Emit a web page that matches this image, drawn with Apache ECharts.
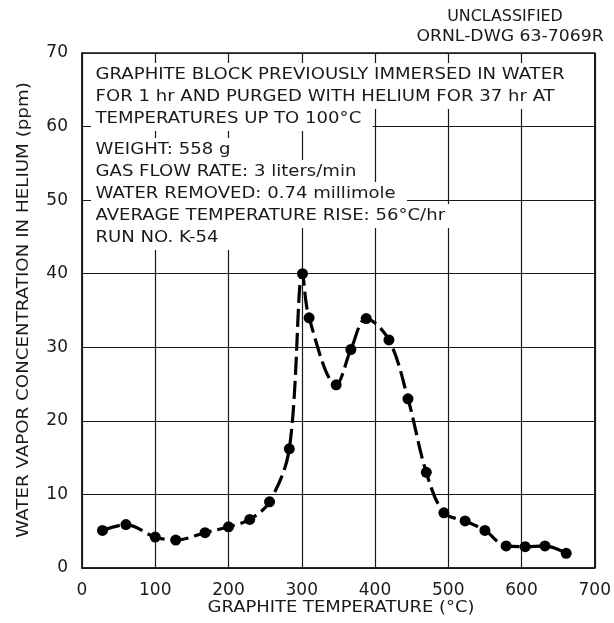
<!DOCTYPE html>
<html>
<head>
<meta charset="utf-8">
<script src="https://cdn.jsdelivr.net/npm/echarts@6/dist/echarts.min.js"></script>
<style>
  html, body { margin: 0; padding: 0; background: #fff; }
  #chart { width: 614px; height: 623px; }
</style>
</head>
<body>
<div id="chart"></div>
<script>
// graphite temperature (deg C) and water vapor (ppm)
const temps = [28, 60, 100, 128, 168, 200, 229, 256, 283, 301, 310, 347, 367, 388, 419, 445, 470, 494, 523, 550, 579, 605, 632, 661];
const ppm = [5.1, 5.9, 4.2, 3.8, 4.8, 5.6, 6.6, 9.0, 16.2, 40.0, 34.0, 24.9, 29.7, 33.9, 31.0, 23.0, 13.0, 7.5, 6.4, 5.1, 3.0, 2.9, 3.0, 2.0];

const headerLines = [
  'GRAPHITE BLOCK PREVIOUSLY IMMERSED IN WATER',
  'FOR 1 hr AND PURGED WITH HELIUM FOR 37 hr AT',
  'TEMPERATURES UP TO 100°C'
];
const detailLines = [
  'WEIGHT: 558 g',
  'GAS FLOW RATE: 3 liters/min',
  'WATER REMOVED: 0.74 millimole',
  'AVERAGE TEMPERATURE RISE: 56°C/hr',
  'RUN NO. K-54'
];
const xTitle = 'GRAPHITE TEMPERATURE (°C)';
const yTitle = 'WATER VAPOR CONCENTRATION IN HELIUM (ppm)';

const FONT = '"DejaVu Sans", sans-serif';
const INK = '#1a1a1a';
const chart = echarts.init(document.getElementById('chart'));

function noteText(text, y) {
  return {
    type: 'text',
    x: 91,
    y: y,
    z: 100,
    scaleX: 1.13,
    style: {
      text: text,
      font: '16px ' + FONT,
      fill: INK,
      verticalAlign: 'middle',
      backgroundColor: '#fff',
      padding: [4, 10, 4, 4]
    }
  };
}

function label(text, x, y, size, sx, rot) {
  return {
    type: 'text', x: x, y: y, scaleX: sx, rotation: rot || 0,
    style: { text: text, font: size + 'px ' + FONT, fill: INK, align: 'center', verticalAlign: 'middle' }
  };
}

const graphics = [];
headerLines.forEach((t, i) => graphics.push(noteText(t, 75 + i * 22)));
detailLines.forEach((t, i) => graphics.push(noteText(t, 150 + i * 22)));
graphics.push(label('UNCLASSIFIED', 505, 17, 15, 1.06));
graphics.push(label('ORNL-DWG 63-7069R', 510, 37, 15, 1.15));
graphics.push(label(xTitle, 341, 608, 16, 1.12));
graphics.push(label(yTitle, 24, 310, 16, 1.14, Math.PI / 2));

const option = {
  backgroundColor: '#fff',
  animation: false,
  textStyle: { fontFamily: FONT },
  grid: {
    left: 82, right: 18, top: 53, bottom: 55,
    show: true, borderColor: INK, borderWidth: 1.5
  },
  xAxis: {
    type: 'value',
    min: 0, max: 700, interval: 100,
    axisLine: { lineStyle: { color: INK, width: 1.5 } },
    axisTick: { show: false },
    axisLabel: { fontSize: 17, color: INK, margin: 14 },
    splitLine: { lineStyle: { color: INK, width: 1.2 } }
  },
  yAxis: {
    type: 'value',
    min: 0, max: 70, interval: 10,
    axisLine: { lineStyle: { color: INK, width: 1.5 } },
    axisTick: { show: false },
    axisLabel: { fontSize: 17, color: INK, margin: 14 },
    splitLine: { lineStyle: { color: INK, width: 1.2 } }
  },
  series: [{
    type: 'line',
    data: temps.map((t, i) => [t, ppm[i]]),
    smooth: 0.35,
    symbol: 'circle',
    symbolSize: 11,
    itemStyle: { color: '#000' },
    lineStyle: { color: '#000', width: 3.2, type: [18, 6] }
  }],
  graphic: graphics
};

chart.setOption(option);
</script>
</body>
</html>
